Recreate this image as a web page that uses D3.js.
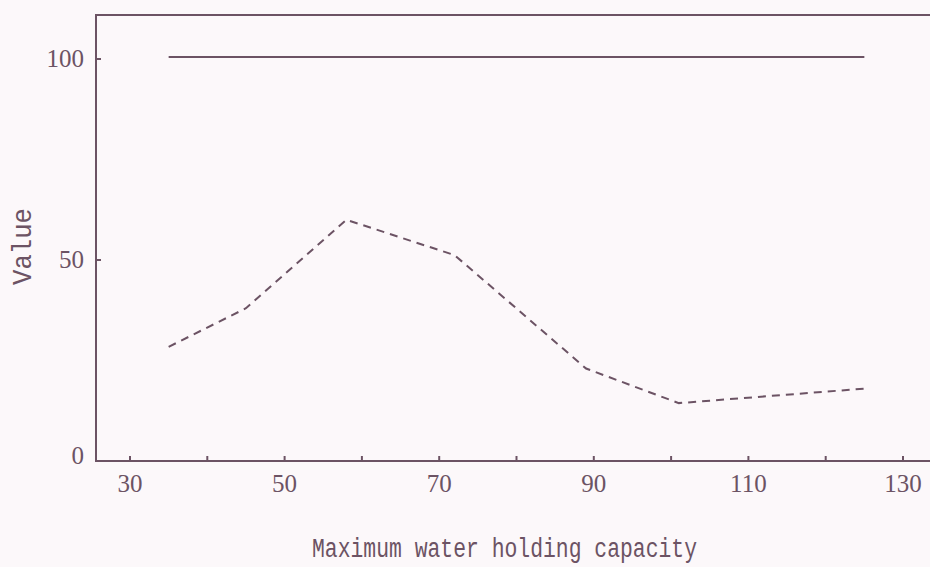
<!DOCTYPE html>
<html>
<head>
<meta charset="utf-8">
<script src="https://cdn.jsdelivr.net/npm/d3@7"></script>
<style>
  body { margin: 0; background: #fcf8fa; }
  svg { display: block; }
</style>
</head>
<body>
<svg id="chart" width="930" height="567"></svg>
<script>
// values
const capacity = [35, 45, 58, 72, 89, 101, 125];
const dashedValues = [28.4, 38, 60, 51.2, 23, 14.4, 18];
const solidCapacity = [35, 125];
const solidValues = [100.5, 100.5];
const xTicks = [30, 40, 50, 60, 70, 80, 90, 100, 110, 120, 130];
const xLabels = [30, 50, 70, 90, 110, 130];
const yTicks = [0, 50, 100];

const ink = '#6c5364';
const svg = d3.select('#chart');

const x = d3.scaleLinear().domain([30, 130]).range([130, 903]);
const y = d3.scaleLinear().domain([0, 100]).range([461, 59]);

const plotLeft = 96, plotTop = 15, plotRight = 932, plotBottom = 461;

// frame: left, top and bottom lines
svg.append('path')
  .attr('d', `M${plotRight},${plotTop}H${plotLeft}V${plotBottom}H${plotRight}`)
  .attr('fill', 'none')
  .attr('stroke', ink)
  .attr('stroke-width', 2);

// x ticks point up into the plot
svg.append('g')
  .selectAll('line')
  .data(xTicks)
  .enter()
  .append('line')
  .attr('x1', d => x(d))
  .attr('x2', d => x(d))
  .attr('y1', plotBottom)
  .attr('y2', plotBottom - 5)
  .attr('stroke', ink)
  .attr('stroke-width', 2);

svg.append('g')
  .selectAll('text')
  .data(xLabels)
  .enter()
  .append('text')
  .attr('x', d => x(d))
  .attr('y', 492)
  .attr('text-anchor', 'middle')
  .attr('font-family', 'Liberation Serif')
  .attr('font-size', '25px')
  .attr('fill', ink)
  .text(d => d);

// y ticks
svg.append('g')
  .selectAll('line')
  .data(yTicks.filter(d => d > 0))
  .enter()
  .append('line')
  .attr('x1', plotLeft)
  .attr('x2', plotLeft + 5)
  .attr('y1', d => y(d))
  .attr('y2', d => y(d))
  .attr('stroke', ink)
  .attr('stroke-width', 2);

svg.append('g')
  .selectAll('text')
  .data(yTicks)
  .enter()
  .append('text')
  .attr('x', 84)
  .attr('y', d => y(d) + (d === 0 ? 3 : 8))
  .attr('text-anchor', 'end')
  .attr('font-family', 'Liberation Serif')
  .attr('font-size', '25px')
  .attr('fill', ink)
  .text(d => d);

// axis titles
svg.append('text')
  .attr('x', 312)
  .attr('y', 557)
  .attr('font-family', 'Liberation Mono')
  .attr('font-size', '27px')
  .attr('textLength', 385)
  .attr('lengthAdjust', 'spacingAndGlyphs')
  .attr('fill', ink)
  .text('Maximum water holding capacity');

svg.append('text')
  .attr('transform', 'translate(31,285) rotate(-90)')
  .attr('font-family', 'Liberation Mono')
  .attr('font-size', '27px')
  .attr('textLength', 77)
  .attr('lengthAdjust', 'spacingAndGlyphs')
  .attr('fill', ink)
  .text('Value');

// lines
const solid = d3.line()
  .x((d, i) => x(solidCapacity[i]))
  .y(d => y(d));

svg.append('path')
  .datum(solidValues)
  .attr('d', solid)
  .attr('fill', 'none')
  .attr('stroke', ink)
  .attr('stroke-width', 2);

const dashed = d3.line()
  .x((d, i) => x(capacity[i]))
  .y(d => y(d));

svg.append('path')
  .datum(dashedValues)
  .attr('d', dashed)
  .attr('fill', 'none')
  .attr('stroke', ink)
  .attr('stroke-width', 2)
  .attr('stroke-dasharray', '8,6');
</script>
</body>
</html>
